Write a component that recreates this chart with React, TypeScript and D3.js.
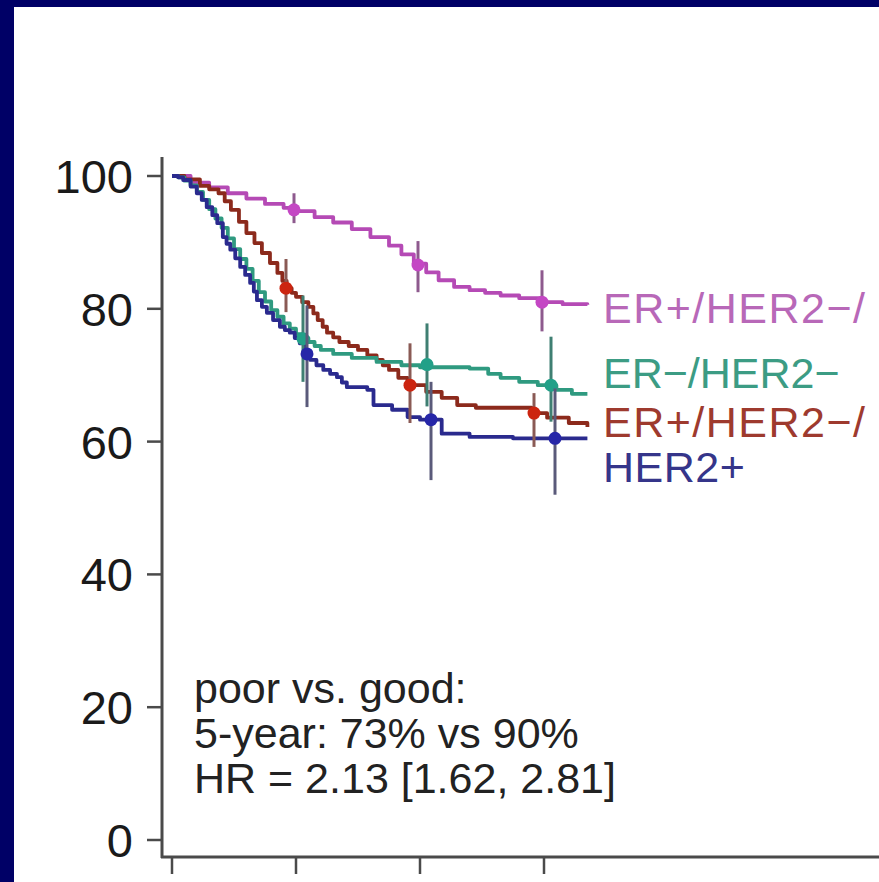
import React from "react";
import * as d3 from "d3";

// Kaplan–Meier survival by subtype (time in years, survival in %)
const lowTimes = [0, 0.3, 0.6, 0.9, 1.2, 1.5, 1.8, 2.0, 2.3, 2.6, 2.9, 3.2, 3.5, 3.7, 3.9, 4.1, 4.3, 4.55, 4.8, 5.05, 5.3, 5.6, 5.95, 6.3, 6.7];
const lowSurv = [100, 99, 98.3, 97.4, 96.6, 95.8, 95.2, 94.7, 93.8, 93, 92, 90.8, 89.5, 88.2, 86.8, 85.5, 84.3, 83.3, 82.8, 82.4, 82, 81.6, 81.0, 80.7, 80.6];

const tnTimes = [0, 0.1, 0.2, 0.3, 0.4, 0.5, 0.6, 0.7, 0.8, 0.9, 1.0, 1.1, 1.2, 1.3, 1.4, 1.5, 1.6, 1.7, 1.8, 1.9, 2.0, 2.1, 2.2, 2.3, 2.4, 2.6, 2.9, 3.3, 3.7, 4.0, 4.8, 5.1, 5.3, 5.6, 5.9, 6.2, 6.45, 6.7];
const tnSurv = [100, 99.8, 99.3, 98.6, 97.6, 96.4, 95, 93.6, 92.2, 90.6, 89, 87.5, 86, 84.2, 82.5, 81.1, 79.8, 78.8, 77.8, 77, 76.2, 75.6, 75, 74.4, 73.8, 73.2, 72.6, 72, 71.5, 71.2, 71.0, 70.2, 69.6, 69.0, 68.5, 67.8, 67.2, 67.2];

const highTimes = [0, 0.2, 0.45, 0.6, 0.75, 0.85, 0.95, 1.08, 1.2, 1.33, 1.45, 1.58, 1.7, 1.78, 1.85, 1.93, 2.0, 2.1, 2.2, 2.28, 2.35, 2.43, 2.5, 2.6, 2.7, 2.85, 3.0, 3.15, 3.3, 3.4, 3.5, 3.65, 3.8, 4.1, 4.35, 4.6, 4.9, 5.8, 6.05, 6.4, 6.7];
const highSurv = [100, 99.5, 98.5, 98, 97.4, 96.2, 94.9, 93.1, 91.4, 89.9, 88.4, 86.9, 85.4, 84.2, 83.1, 82.4, 81.8, 81, 80.3, 79.3, 78.3, 77.3, 76.4, 75.7, 75.0, 74.4, 73.8, 73, 72.3, 71.5, 70.8, 69.6, 68.5, 67.5, 66.6, 65.5, 65.1, 64.3, 63.6, 62.8, 62.2];

const herTimes = [0, 0.1, 0.18, 0.3, 0.4, 0.48, 0.56, 0.65, 0.73, 0.82, 0.88, 0.94, 1.02, 1.1, 1.18, 1.26, 1.32, 1.37, 1.45, 1.53, 1.63, 1.74, 1.82, 1.9, 1.98, 2.06, 2.15, 2.23, 2.33, 2.44, 2.55, 2.66, 2.74, 2.82, 3.15, 3.25, 3.55, 3.8, 4.0, 4.35, 4.8, 5.5, 6.7];
const herSurv = [100, 99.8, 99.4, 98.4, 97.4, 96.4, 95.3, 94.1, 92.9, 90.8, 89.8, 88.9, 87.6, 86.3, 85.1, 83.9, 82.6, 81.3, 80.3, 79.4, 78.3, 77.3, 76.8, 76.4, 75.6, 74.8, 73.5, 72.3, 71.5, 70.8, 70.2, 69.7, 68.9, 68.2, 67.8, 65.5, 64.8, 63.7, 63.3, 61.2, 60.7, 60.5, 60.5];

// Survival estimates with 95% CI at the marked time points
const markYears = [2, 4, 6];
const lowEst = [94.9, 86.6, 81.0];
const lowLo = [92.9, 82.5, 76.6];
const lowHi = [97.4, 90.2, 85.8];
const tnEst = [75.5, 71.6, 68.5];
const tnLo = [69.0, 65.3, 63.0];
const tnHi = [82.0, 77.8, 75.8];
const highEst = [83.1, 68.5, 64.3];
const highLo = [79.5, 62.8, 59.2];
const highHi = [87.5, 74.8, 67.3];
const herEst = [73.2, 63.3, 60.5];
const herLo = [65.2, 54.2, 52.0];
const herHi = [80.5, 69.0, 68.0];

const groupLabels = ["ER+/HER2\u2212/", "ER\u2212/HER2\u2212", "ER+/HER2\u2212/", "HER2+"];

const yTicks = [0, 20, 40, 60, 80, 100];
const xTicks = [0, 2, 4, 6];

const noteLines = ["poor vs. good:", "5-year: 73% vs 90%", "HR = 2.13 [1.62, 2.81]"];

const W = 879;
const H = 882;
const FONT = "'Liberation Sans', Arial, Helvetica, sans-serif";

type Series = {
  times: number[];
  surv: number[];
  est: number[];
  lo: number[];
  hi: number[];
  line: string;
  dot: string;
  bar: string;
  text: string;
  dodge: number;
  labelDy: number;
  spacing: number;
};

export default function App() {
  const x = d3.scaleLinear().domain([0, 6]).range([172, 544]);
  const y = d3.scaleLinear().domain([0, 100]).range([840, 176]);

  const series: Series[] = [
    { times: lowTimes, surv: lowSurv, est: lowEst, lo: lowLo, hi: lowHi, line: "#b54ab5", dot: "#c447c4", bar: "#8e5a8e", text: "#b868b8", dodge: -2, labelDy: 18, spacing: 1.5 },
    { times: tnTimes, surv: tnSurv, est: tnEst, lo: tnLo, hi: tnHi, line: "#2f9a80", dot: "#22a088", bar: "#3f7f72", text: "#3c9c84", dodge: 7, labelDy: -6, spacing: 0 },
    { times: highTimes, surv: highSurv, est: highEst, lo: highLo, hi: highHi, line: "#8c2a1c", dot: "#cc2510", bar: "#8a5a55", text: "#9e3a2e", dodge: -10, labelDy: 10, spacing: 1.5 },
    { times: herTimes, surv: herSurv, est: herEst, lo: herLo, hi: herHi, line: "#2a2a8e", dot: "#2626a8", bar: "#5a5a7a", text: "#35358a", dodge: 11, labelDy: 44, spacing: 0.5 },
  ];

  const step = d3
    .line<[number, number]>()
    .x((d) => x(d[0]))
    .y((d) => y(d[1]))
    .curve(d3.curveStepAfter);

  const drawOrder = [0, 2, 1, 3];

  return (
    <svg
      width={W}
      height={H}
      style={{ position: "absolute", left: 0, top: 0, display: "block" }}
      fontFamily={FONT}
    >
      <rect x={0} y={0} width={W} height={H} fill="#000066" />
      <rect x={14} y={7} width={W - 14} height={H - 7} fill="#ffffff" />

      {/* axes */}
      <line x1={162} x2={162} y1={157} y2={858} stroke="#4a4a4a" strokeWidth={3} />
      <line x1={161} x2={W} y1={857} y2={857} stroke="#4a4a4a" strokeWidth={3} />
      {yTicks.map((t) => (
        <g key={"y" + t}>
          <line x1={147} x2={162} y1={y(t)} y2={y(t)} stroke="#4a4a4a" strokeWidth={2.5} />
          <text x={133} y={y(t) + 17} textAnchor="end" fontSize={47} fill="#1a1a1a">
            {t}
          </text>
        </g>
      ))}
      {xTicks.map((t) => (
        <line key={"x" + t} x1={x(t)} x2={x(t)} y1={857} y2={874} stroke="#4a4a4a" strokeWidth={2.5} />
      ))}

      {/* survival curves */}
      {drawOrder.map((i) => {
        const s = series[i];
        const pts = s.times.map((t, k) => [t, s.surv[k]] as [number, number]);
        return (
          <path key={"c" + i} d={step(pts) || ""} fill="none" stroke={s.line} strokeWidth={3.8} strokeLinejoin="round" />
        );
      })}

      {/* confidence intervals and estimates */}
      {drawOrder.map((i) => {
        const s = series[i];
        return (
          <g key={"m" + i}>
            {markYears.map((yr, k) => {
              const cx = x(yr) + s.dodge;
              return (
                <g key={k}>
                  <line x1={cx} x2={cx} y1={y(s.lo[k])} y2={y(s.hi[k])} stroke={s.bar} strokeWidth={3} />
                  <circle cx={cx} cy={y(s.est[k])} r={6.5} fill={s.dot} />
                </g>
              );
            })}
          </g>
        );
      })}

      {/* group labels */}
      {series.map((s, i) => (
        <text
          key={"l" + i}
          x={603}
          y={y(s.surv[s.surv.length - 1]) + s.labelDy}
          fontSize={43}
          letterSpacing={s.spacing}
          fill={s.text}
        >
          {groupLabels[i]}
        </text>
      ))}

      {/* comparison summary */}
      {noteLines.map((line, i) => (
        <text key={"n" + i} x={194} y={703 + i * 45} fontSize={43} fill="#222">
          {line}
        </text>
      ))}
    </svg>
  );
}
